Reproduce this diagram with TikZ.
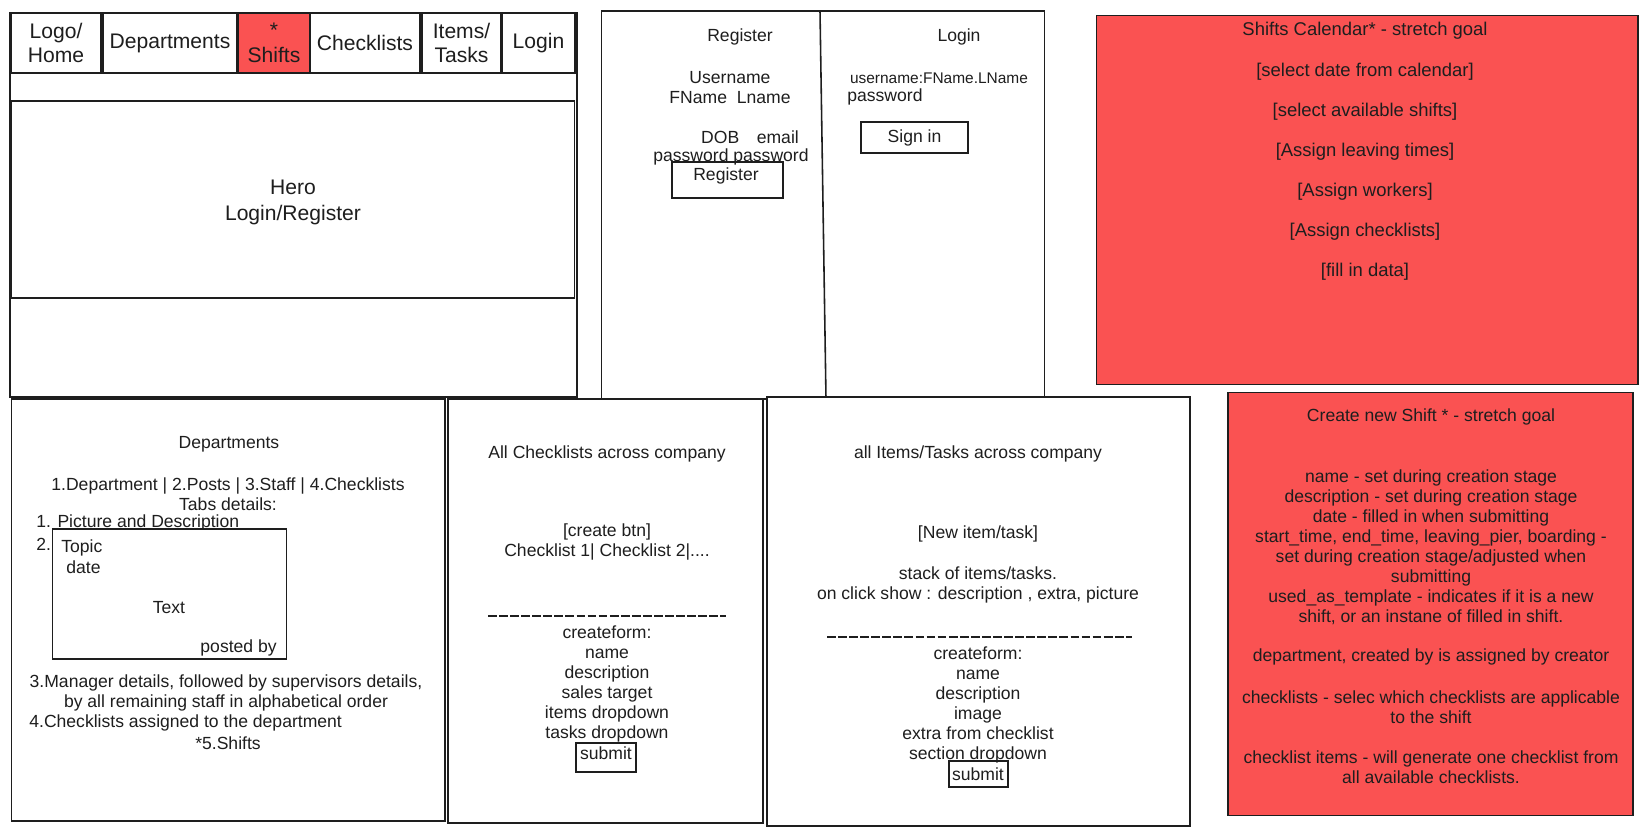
\documentclass[tikz,border=0pt]{standalone}
\usepackage{fontspec}
\setmainfont{Liberation Sans}
\usetikzlibrary{positioning}
\definecolor{shiftred}{RGB}{250, 82, 82}
\definecolor{inkdark}{RGB}{30, 30, 30}
\tikzset{
    frame/.style={
        rectangle, draw=inkdark, line width=0.9pt, fill=white, inner sep=0pt
    },
    redframe/.style={frame, fill=shiftred},
    navbox/.style={frame, minimum height=1.21cm, font=\fontsize{12}{14}\selectfont,
        align=center, text=inkdark},
    navtext/.style={font=\fontsize{12}{14.5}\selectfont, align=center, text=inkdark, yshift=-1.8pt},
    plaintxt/.style={font=\fontsize{10}{11.4}\selectfont, align=center, text=inkdark, inner sep=0pt},
    txt/.style={plaintxt, yshift=-1.8pt},
    smalltxt/.style={txt, font=\fontsize{8.8}{11.4}\selectfont},
    bigtxt/.style={txt, font=\fontsize{10.5}{12}\selectfont},
    sepline/.style={dash pattern=on 5pt off 1.3pt, line width=0.7pt, draw=inkdark},
}

\begin{document}
\begin{tikzpicture}[x=0.02cm, y=-0.02cm]
    \path[use as bounding box, fill=white] (0,0) rectangle (1646,837);

    % home page
    \node[frame, minimum width=11.34cm, minimum height=7.68cm] (home) at (293.5,205) {};
    \node[navbox, minimum width=1.79cm] (logo) at (56,43) {Logo/\\Home};
    \node[navbox, minimum width=2.68cm] (navdepts) at (170,43) {Departments};
    \node[navbox, minimum width=1.44cm, fill=shiftred] (navshifts) at (274,43) {*\\Shifts};
    \node[navbox, minimum width=2.2cm] (navchecks) at (365,43) {Checklists};
    \node[navbox, minimum width=1.58cm] (navitems) at (461.5,43) {Items/\\Tasks};
    \node[navbox, minimum width=1.46cm] (navlogin) at (538.5,43) {Login};
    \node[frame, minimum width=11.27cm, minimum height=3.94cm] (hero) at (293,199.5) {};
    \node[navtext] (herotext) at (293,199.5) {Hero\\Login/Register};

    % register / login
    \node[frame, minimum width=8.86cm, minimum height=7.77cm] (auth) at (823,205) {};
    \draw[line width=0.9pt, draw=inkdark] (820,11) -- (826,399);
    \node[txt] (regtitle) at (740,34) {Register};
    \node[txt] (username) at (730,84.5) {Username\\FName~~Lname};
    \node[txt] (dob) at (750,134) {DOB\quad email};
    \node[txt] (regpass) at (731,154) {password password};
    \node[frame, fill=none, minimum width=2.22cm, minimum height=0.72cm] (regbtn) at (727.5,180) {};
    \node[txt] (regbtntext) at (726,173) {Register};
    \node[txt] (logintitle) at (959,34) {Login};
    \node[smalltxt] (loginuser) at (939,75) {username:FName.LName};
    \node[txt, anchor=west] (loginpass) at (847,94) {password};
    \node[frame, plaintxt, fill=none, minimum width=2.14cm, minimum height=0.62cm] (signin) at (914.5,137.5) {Sign in};

    % shifts calendar
    \node[redframe, minimum width=10.83cm, minimum height=7.38cm] (calendar) at (1367,200) {};
    \node[bigtxt] (caltitle) at (1365,28) {Shifts Calendar* - stretch goal};
    \node[bigtxt] (calselect) at (1365,69) {[select date from calendar]};
    \node[bigtxt] (calshifts) at (1365,109) {[select available shifts]};
    \node[bigtxt] (calleave) at (1365,149) {[Assign leaving times]};
    \node[bigtxt] (calworkers) at (1365,189) {[Assign workers]};
    \node[bigtxt] (calchecks) at (1365,229) {[Assign checklists]};
    \node[bigtxt] (calfill) at (1365,269) {[fill in data]};

    % departments
    \node[frame, minimum width=8.67cm, minimum height=8.44cm] (depts) at (228,610) {};
    \node[txt] (deptstitle) at (229,441) {Departments};
    \node[txt] (depttabs) at (228,491) {1.Department | 2.Posts | 3.Staff | 4.Checklists\\Tabs details:};
    \node[txt, anchor=west] (tabone) at (36,520) {1. Picture and Description};
    \node[txt, anchor=west] (tabtwo) at (36,541) {2.};
    \node[frame, minimum width=4.68cm, minimum height=2.6cm] (post) at (169.5,594) {};
    \node[txt, anchor=west] (posttopic) at (61,545) {Topic};
    \node[txt, anchor=west] (postdate) at (66,564) {date};
    \node[txt] (posttext) at (169,604) {Text};
    \node[txt, anchor=east] (postby) at (277,645) {posted by};
    \node[txt] (staffdetails) at (226,690) {3.Manager details, followed by supervisors details,\\by all remaining staff in alphabetical order};
    \node[txt, anchor=west] (deptchecks) at (29,720) {4.Checklists assigned to the department};
    \node[txt] (deptshifts) at (228,740) {*5.Shifts};

    % checklists
    \node[frame, minimum width=6.3cm, minimum height=8.48cm] (checklists) at (605.5,611) {};
    \node[txt] (chktitle) at (607,451) {All Checklists across company};
    \node[txt] (chklist) at (607,539) {[create btn]\\Checklist 1| Checklist 2|....};
    \draw[sepline] (488,616) -- (726,616);
    \node[txt] (chkform) at (607,680.5) {createform:\\name\\description\\sales target\\items dropdown\\tasks dropdown};
    \node[frame, fill=none, minimum width=1.2cm, minimum height=0.58cm] (chksubmit) at (606,757.5) {};
    \node[txt] (chksubmittext) at (606,750) {submit};

    % items / tasks
    \node[frame, minimum width=8.46cm, minimum height=8.58cm] (items) at (978.5,611.5) {};
    \node[txt] (itemtitle) at (978,451) {all Items/Tasks across company};
    \node[txt] (itemnew) at (978,531) {[New item/task]};
    \node[txt] (itemstack) at (978,581.5) {stack of items/tasks.\\on click show : description , extra, picture};
    \draw[sepline] (827,637) -- (1132,637);
    \node[txt] (itemform) at (978,702) {createform:\\name\\description\\image\\extra from checklist\\section dropdown};
    \node[frame, fill=none, minimum width=1.18cm, minimum height=0.52cm] (itemsubmit) at (978.5,774) {};
    \node[txt] (itemsubmittext) at (978,771) {submit};

    % create new shift
    \node[redframe, minimum width=8.1cm, minimum height=8.46cm] (newshift) at (1430.5,604) {};
    \node[txt] (newtitle) at (1431,414) {Create new Shift * - stretch goal};
    \node[txt] (newfields) at (1431,544) {name - set during creation stage\\description - set during creation stage\\date - filled in when submitting\\start\_time, end\_time, leaving\_pier, boarding -\\set during creation stage/adjusted when\\submitting\\used\_as\_template - indicates if it is a new\\shift, or an instane of filled in shift.};
    \node[txt] (newdept) at (1431,654) {department, created by is assigned by creator};
    \node[txt] (newchecks) at (1431,704) {checklists - selec which checklists are applicable\\to the shift};
    \node[txt] (newitems) at (1431,764) {checklist items - will generate one checklist from\\all available checklists.};
\end{tikzpicture}
\end{document}
